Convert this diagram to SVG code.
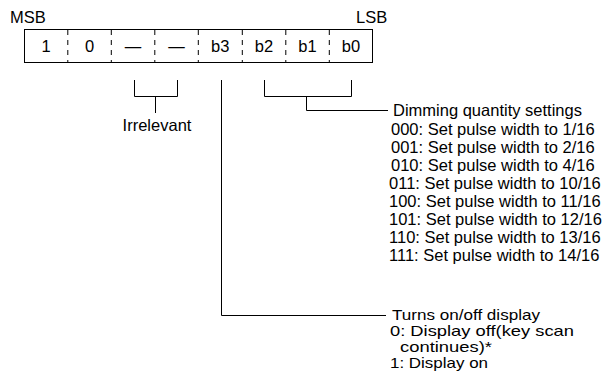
<svg xmlns="http://www.w3.org/2000/svg" width="609" height="379" viewBox="0 0 609 379">
<style>
text{font-family:"Liberation Sans",Arial,sans-serif;font-size:16.5px;fill:#000}
.c{text-anchor:middle}
.s{font-size:15px}
.ln{stroke:#000;stroke-width:1;fill:none}
.dv{stroke:#000;stroke-width:1;stroke-dasharray:5,5}
</style>
<rect width="609" height="379" fill="#fff"/>
<g id="register">
<rect class="ln" x="24.5" y="29.5" width="348" height="33"/>
<line class="dv" x1="67.8" y1="30" x2="67.8" y2="62"/>
<line class="dv" x1="111.3" y1="30" x2="111.3" y2="62"/>
<line class="dv" x1="154.8" y1="30" x2="154.8" y2="62"/>
<line class="dv" x1="198.3" y1="30" x2="198.3" y2="62"/>
<line class="dv" x1="242.3" y1="30" x2="242.3" y2="62"/>
<line class="dv" x1="285.8" y1="30" x2="285.8" y2="62"/>
<line class="dv" x1="329.3" y1="30" x2="329.3" y2="62"/>
<text class="c" x="46" y="52">1</text>
<text class="c" x="89.5" y="52">0</text>
<text class="c" x="133" y="52">—</text>
<text class="c" x="176.5" y="52">—</text>
<text class="c" x="220.3" y="52">b3</text>
<text class="c" x="264" y="52">b2</text>
<text class="c" x="307.5" y="52">b1</text>
<text class="c" x="351" y="52">b0</text>
<text x="10" y="23">MSB</text>
<text x="356" y="23">LSB</text>
</g>
<g id="connectors">
<path class="ln" d="M134.5,80 V96.5 H177.5 V80 M155.5,96.5 V113"/>
<path class="ln" d="M264.5,80 V96.5 H351.5 V80 M306.5,96.5 V110.5 H388"/>
<path class="ln" d="M221.5,80 V315.5 H386"/>
</g>
<g id="irrelevant"><text class="c" x="157" y="131">Irrelevant</text></g>
<g id="dimming">
<text x="393" y="116">Dimming quantity settings</text>
<text x="391" y="135">000: Set pulse width to 1/16</text>
<text x="391" y="153">001: Set pulse width to 2/16</text>
<text x="391" y="171">010: Set pulse width to 4/16</text>
<text x="389" y="189">011: Set pulse width to 10/16</text>
<text x="389" y="207">100: Set pulse width to 11/16</text>
<text x="389" y="225">101: Set pulse width to 12/16</text>
<text x="389" y="243">110: Set pulse width to 13/16</text>
<text x="389" y="261">111: Set pulse width to 14/16</text>
</g>
<g id="display">
<text x="392" y="320" textLength="148" lengthAdjust="spacingAndGlyphs" class="s">Turns on/off display</text>
<text x="390" y="336" textLength="184" lengthAdjust="spacingAndGlyphs" class="s">0: Display off(key scan</text>
<text x="400" y="352" textLength="92" lengthAdjust="spacingAndGlyphs" class="s">continues)*</text>
<text x="390" y="368" textLength="98" lengthAdjust="spacingAndGlyphs" class="s">1: Display on</text>
</g>
</svg>
